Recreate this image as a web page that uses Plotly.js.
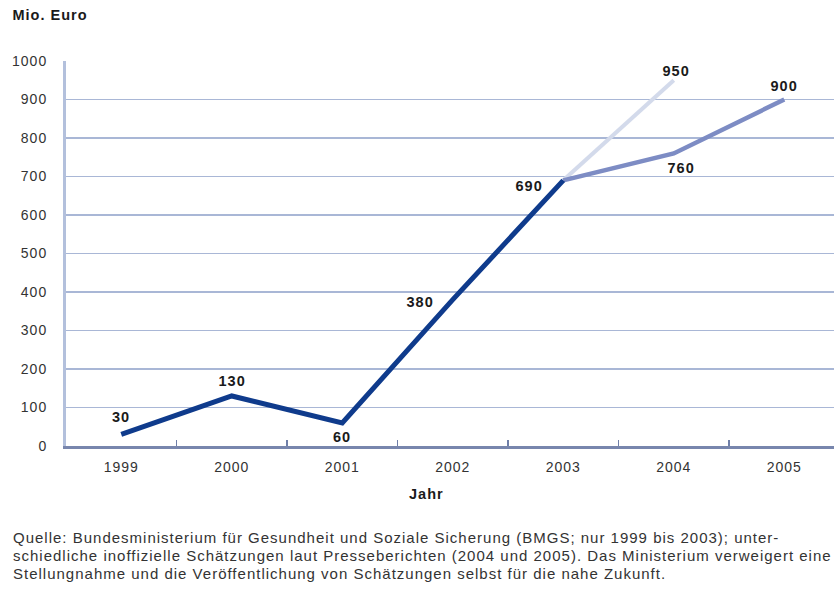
<!DOCTYPE html>
<html>
<head>
<meta charset="utf-8">
<script src="https://cdn.plot.ly/plotly-3.0.1.min.js"></script>
<style>
html,body{margin:0;padding:0;background:#fff;}
#chart svg text{letter-spacing:1px;}
</style>
</head>
<body>
<div id="chart" style="width:834px;height:592px;"></div>
<script>
const years = ["1999", "2000", "2001", "2002", "2003", "2004", "2005"];
const officialYears = ["1999", "2000", "2001", "2002", "2003"];
const officialValues = [30, 130, 60, 380, 690];
const highYears = ["2003", "2004"];
const highValues = [690, 950];
const lowYears = ["2003", "2004", "2005"];
const lowValues = [690, 760, 900];
const yTicks = [0, 100, 200, 300, 400, 500, 600, 700, 800, 900, 1000];
const sourceLines = [
  "Quelle: Bundesministerium für Gesundheit und Soziale Sicherung (BMGS; nur 1999 bis 2003); unter-",
  "schiedliche inoffizielle Schätzungen laut Presseberichten (2004 und 2005). Das Ministerium verweigert eine",
  "Stellungnahme und die Veröffentlichung von Schätzungen selbst für die nahe Zukunft."
];

// label pixel offsets (style only)
const officialOffsets = [[0, 17], [0, 15], [0, -14], [-33, -2], [-34, -6]];
const highOffsets = [null, [2, 9]];
const lowOffsets = [null, [7, -15], [0, 14]];

const FONT = "Liberation Sans, Arial, Helvetica, sans-serif";
const labelFont = {family: FONT, size: 14.5, color: "#1a1a1a"};

const traces = [
  {x: highYears, y: highValues, type: "scatter", mode: "lines",
   line: {color: "#d3daeb", width: 4}, hoverinfo: "skip"},
  {x: lowYears, y: lowValues, type: "scatter", mode: "lines",
   line: {color: "#7d8cc4", width: 4.5}, hoverinfo: "skip"},
  {x: officialYears, y: officialValues, type: "scatter", mode: "lines",
   line: {color: "#0f3b8c", width: 5}, hoverinfo: "skip"}
];

const annotations = [];
function addLabels(xs, ys, offs) {
  xs.forEach((x, i) => {
    if (!offs[i]) return;
    annotations.push({
      x: years.indexOf(x), y: ys[i], xref: "x", yref: "y", text: "<b>" + ys[i] + "</b>",
      showarrow: false, xshift: offs[i][0], yshift: offs[i][1],
      xanchor: "center", yanchor: "middle", font: labelFont
    });
  });
}
addLabels(officialYears, officialValues, officialOffsets);
addLabels(highYears, highValues, highOffsets);
addLabels(lowYears, lowValues, lowOffsets);

annotations.push({
  text: "<b>Mio. Euro</b>", xref: "paper", yref: "paper", x: -51/768, y: 1 + 46/385,
  xanchor: "left", yanchor: "middle", showarrow: false,
  font: {family: FONT, size: 14.5, color: "#1a1a1a"}
});
annotations.push({
  text: "<b>Jahr</b>", xref: "paper", yref: "paper", x: (426 - 66)/768, y: -48/385,
  xanchor: "center", yanchor: "middle", showarrow: false,
  font: {family: FONT, size: 14.5, color: "#1a1a1a"}
});
sourceLines.forEach((t, i) => {
  annotations.push({
    text: t, xref: "paper", yref: "paper", x: -55/768, y: -(91 + 18 * i)/385,
    xanchor: "left", yanchor: "middle", align: "left", showarrow: false,
    font: {family: FONT, size: 15, color: "#333"}
  });
});

const layout = {
  width: 834, height: 592,
  margin: {l: 66, r: 0, t: 61, b: 146},
  paper_bgcolor: "#fff", plot_bgcolor: "#fff",
  showlegend: false,
  xaxis: {
    type: "category", categoryorder: "array", categoryarray: years,
    range: [-0.5, 6.45],
    tickson: "boundaries", ticks: "inside", ticklen: 6, tickwidth: 1.5, tickcolor: "#6f7fa8",
    showline: true, linecolor: "#7886ad", linewidth: 3,
    showgrid: false, zeroline: false, ticklabelstandoff: 6,
    tickfont: {family: FONT, size: 14, color: "#333"},
    automargin: false
  },
  yaxis: {
    range: [0, 1000], tickvals: yTicks, ticktext: yTicks.map(String),
    showline: true, linecolor: "#b3c0dc", linewidth: 3,
    showgrid: true, gridcolor: "#a9b7d6", gridwidth: 1.5,
    zeroline: false, ticks: "", ticklabelstandoff: 13,
    tickfont: {family: FONT, size: 14, color: "#333"},
    automargin: false
  },
  annotations: annotations
};

Plotly.newPlot("chart", traces, layout, {displayModeBar: false, staticPlot: true});
</script>
</body>
</html>
